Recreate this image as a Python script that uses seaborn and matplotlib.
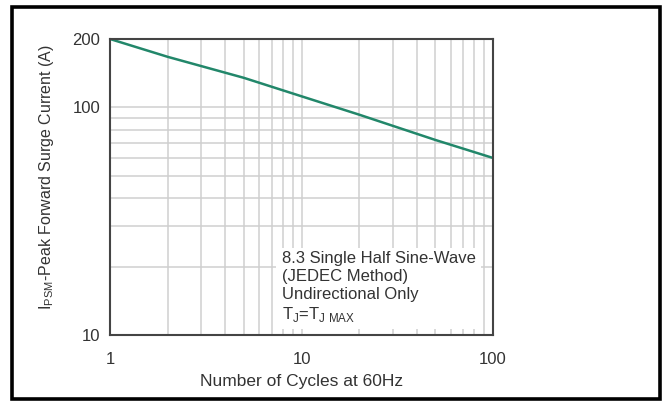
import numpy as np
import pandas as pd
import matplotlib
matplotlib.use('Agg')
import matplotlib.pyplot as plt
import matplotlib.ticker as mticker
from matplotlib.patches import Rectangle
import seaborn as sns

# values
cycles = [1, 2, 5, 10, 20, 50, 100]
surge_current = [200, 167, 135, 112, 93, 72, 60]

x_ticks = [1, 10, 100]
y_ticks = [10, 100, 200]

df = pd.DataFrame({'cycles': cycles, 'current': surge_current})

sns.set_style('white')
plt.rcParams['font.family'] = ['Liberation Sans', 'DejaVu Sans']
plt.rcParams['mathtext.fontset'] = 'custom'
plt.rcParams['mathtext.rm'] = 'Liberation Sans'

text_col = '#333333'

fig = plt.figure(figsize=(6.67, 4.01), dpi=100)
ax = fig.add_axes([110 / 667, 1 - 335 / 401, 383 / 667, 296 / 401])

sns.lineplot(data=df, x='cycles', y='current', ax=ax, color='#22876a', linewidth=1.8)

ax.set_xscale('log')
ax.set_yscale('log')
ax.set_xlim(1, 100)
ax.set_ylim(10, 200)

ax.xaxis.set_major_locator(mticker.FixedLocator(x_ticks))
ax.yaxis.set_major_locator(mticker.FixedLocator(y_ticks))
ax.xaxis.set_major_formatter(mticker.FixedFormatter([str(t) for t in x_ticks]))
ax.yaxis.set_major_formatter(mticker.FixedFormatter([str(t) for t in y_ticks]))
ax.xaxis.set_minor_locator(mticker.LogLocator(base=10, subs=np.arange(2, 10)))
ax.yaxis.set_minor_locator(mticker.LogLocator(base=10, subs=np.arange(2, 10)))
ax.xaxis.set_minor_formatter(mticker.NullFormatter())
ax.yaxis.set_minor_formatter(mticker.NullFormatter())

ax.grid(True, which='both', color='#cfcfcf', linewidth=1.1)
ax.tick_params(which='both', length=0, labelsize=12, colors=text_col)
ax.tick_params(axis='x', pad=12)
ax.tick_params(axis='y', pad=7)

for s in ax.spines.values():
    s.set_color('#444444')
    s.set_linewidth(1.5)

ax.set_xlabel('Number of Cycles at 60Hz', fontsize=12.5, color=text_col, labelpad=5)
ax.set_ylabel(r'I$_\mathregular{PSM}$-Peak Forward Surge Current (A)', fontsize=11.5,
              color=text_col)
ax.yaxis.set_label_coords(-0.142, 0.535)

note = ('8.3 Single Half Sine-Wave\n(JEDEC Method)\nUndirectional Only\n'
        r'T$_\mathregular{J}$=T$_\mathregular{J\ MAX}$')
ax.text(0.449, 0.283, note, transform=ax.transAxes, fontsize=12, color=text_col,
        va='top', ha='left', linespacing=1.22,
        bbox=dict(facecolor='white', edgecolor='none', pad=4))

# black frame around the whole picture
fig.patches.append(Rectangle((11.5 / 667, 2 / 401), 648 / 667, 392.5 / 401,
                             transform=fig.transFigure, fill=False,
                             edgecolor='black', linewidth=2.6))

fig.savefig('out.png', dpi=100)
